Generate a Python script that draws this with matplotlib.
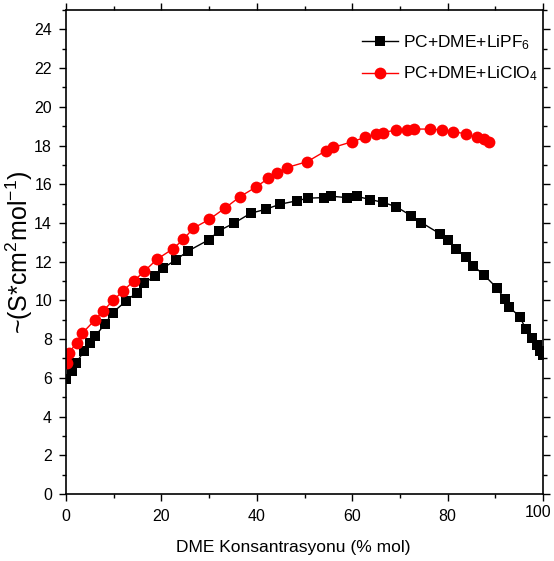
import matplotlib
matplotlib.use("Agg")
import matplotlib.pyplot as plt
from matplotlib.ticker import MultipleLocator, FuncFormatter

plt.rcParams['font.family'] = ['Liberation Sans', 'DejaVu Sans']
plt.rcParams['mathtext.fontset'] = 'custom'
plt.rcParams['mathtext.rm'] = 'Liberation Sans'
plt.rcParams['mathtext.it'] = 'Liberation Sans'
plt.rcParams['mathtext.default'] = 'regular'

# LiPF6 series
x_lipf6 = [0, 1.2, 2.2, 3.8, 5.0, 6.1, 8.2, 9.8, 12.6, 14.8, 16.4, 18.7, 20.3,
           23.0, 25.6, 30.0, 32.1, 35.3, 38.7, 41.9, 44.9, 48.5, 50.7, 54.0,
           55.6, 58.9, 61.0, 63.8, 66.5, 69.2, 72.4, 74.5, 78.4, 80.0, 81.7,
           83.8, 85.4, 87.6, 90.3, 92.0, 92.9, 95.2, 96.4, 97.6, 98.7, 99.4, 100]
y_lipf6 = [5.93, 6.37, 6.79, 7.39, 7.79, 8.15, 8.79, 9.37, 9.97, 10.4, 10.89,
           11.27, 11.66, 12.09, 12.55, 13.14, 13.6, 14.0, 14.5, 14.71, 14.97,
           15.15, 15.28, 15.31, 15.38, 15.31, 15.37, 15.21, 15.06, 14.84, 14.37,
           14.02, 13.44, 13.13, 12.65, 12.24, 11.78, 11.32, 10.65, 10.07, 9.67,
           9.13, 8.51, 8.08, 7.72, 7.38, 7.18]

# LiClO4 series
x_liclo4 = [0.3, 0.6, 2.3, 3.4, 6.1, 7.7, 9.9, 12.0, 14.2, 16.4, 19.1, 22.4,
            24.6, 26.7, 30.0, 33.3, 36.5, 39.8, 42.4, 44.2, 46.3, 50.6, 54.5,
            56.0, 59.9, 62.7, 64.9, 66.5, 69.2, 71.4, 73.0, 76.3, 78.9, 81.2,
            83.8, 86.1, 87.7, 88.7]
y_liclo4 = [6.75, 7.3, 7.82, 8.3, 9.0, 9.44, 10.0, 10.5, 11.0, 11.5, 12.13,
            12.66, 13.15, 13.73, 14.18, 14.76, 15.36, 15.85, 16.3, 16.57, 16.86,
            17.17, 17.73, 17.9, 18.19, 18.42, 18.6, 18.67, 18.8, 18.8, 18.85,
            18.85, 18.8, 18.72, 18.6, 18.42, 18.32, 18.17]

labels = ['PC+DME+LiPF$_6$', 'PC+DME+LiClO$_4$']
xlabel = 'DME Konsantrasyonu (% mol)'
ylabel = '~(S*cm$^2$mol$^{-1}$)'
x_max = 100

fig = plt.figure(figsize=(5.54, 5.61), dpi=100)
ax = fig.add_axes([66/554, 1-494/561, (543-66)/554, (494-10)/561])

ax.plot(x_lipf6, y_lipf6, color='black', lw=1.0, marker='s', ms=7,
        markeredgewidth=0, label=labels[0])
ax.plot(x_liclo4, y_liclo4, color='red', lw=1.0, marker='o', ms=8.5,
        markeredgewidth=0, label=labels[1])

ax.set_xlim(0, x_max)
ax.set_ylim(0, 25)
ax.xaxis.set_major_locator(MultipleLocator(20))
ax.xaxis.set_minor_locator(MultipleLocator(10))
ax.yaxis.set_major_locator(MultipleLocator(2))
ax.yaxis.set_minor_locator(MultipleLocator(1))
# the last x label is drawn separately, nudged left so it stays inside the image
ax.xaxis.set_major_formatter(FuncFormatter(lambda v, p: '' if v >= x_max else f'{v:g}'))
ax.tick_params(axis='both', which='major', direction='out', length=5, width=1,
               labelsize=11.5)
ax.tick_params(axis='y', which='major', pad=5)
ax.tick_params(axis='x', which='major', pad=6)
ax.tick_params(axis='both', which='minor', direction='out', length=3, width=1)
ax.tick_params(top=True, right=True, which='both', labeltop=False, labelright=False)
for sp in ax.spines.values():
    sp.set_linewidth(1.2)

ax.annotate(f'{x_max:g}', xy=(x_max, 0), xycoords=('data', 'axes fraction'),
            xytext=(-3.5, -7.9), textcoords='offset points', ha='center',
            va='top', fontsize=11.5)

ax.set_xlabel(xlabel, fontsize=12.5)
ax.xaxis.set_label_coords(0.476, -0.095)
ax.set_ylabel(ylabel, fontsize=18)
ax.yaxis.set_label_coords(-0.066, 0.5)

ax.legend(loc='upper left', frameon=False, fontsize=12.5, handlelength=2.05,
          handletextpad=0.3, labelspacing=0.75, borderaxespad=0, borderpad=0,
          bbox_to_anchor=((362-66)/477, (494-33)/484))

fig.savefig('out.png', dpi=100)
